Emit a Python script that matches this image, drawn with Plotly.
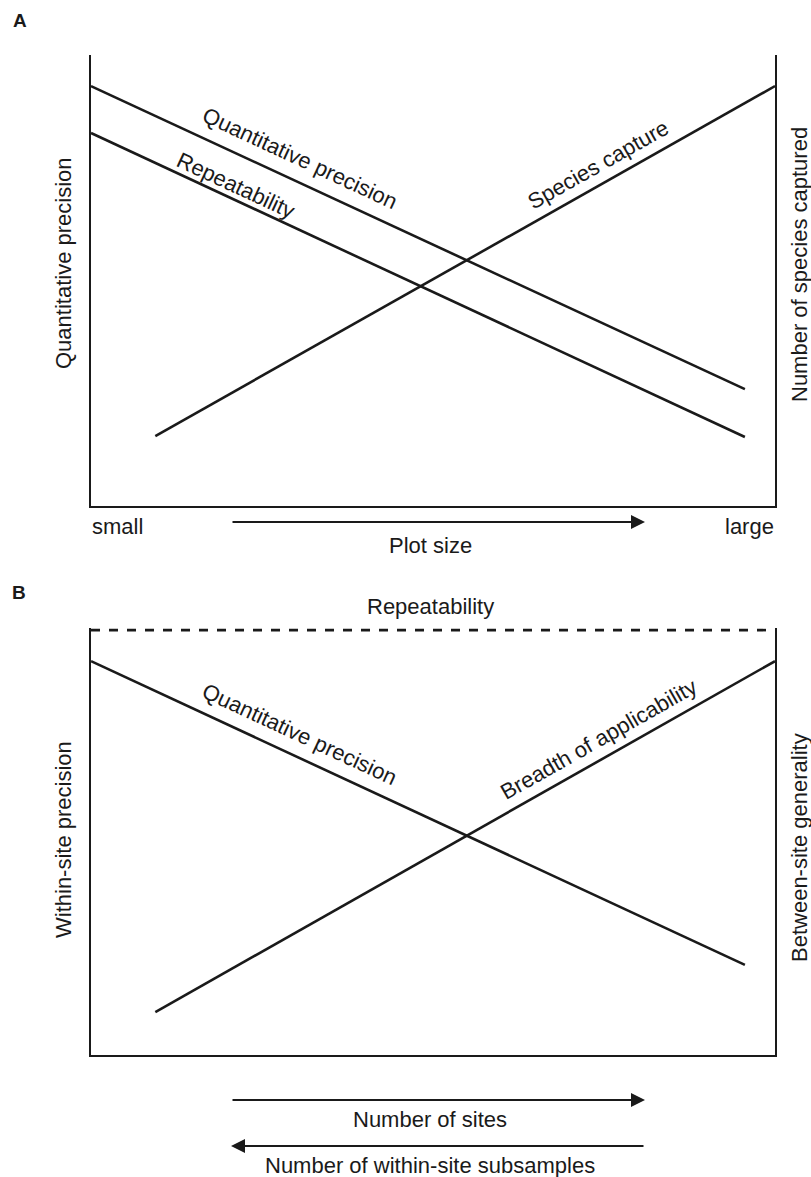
import math
import plotly.graph_objects as go

# ---------------- data (normalised units, 0..1 on each axis) ----------------
# Panel A
a_qp_x = [0.0, 0.956]
a_qp_y = [0.931, 0.259]
a_rep_x = [0.0, 0.956]
a_rep_y = [0.827, 0.153]
a_sc_x = [0.094, 1.0]
a_sc_y = [0.155, 0.931]
a_labels = ["Quantitative precision", "Repeatability", "Species capture"]

# Panel B
b_qp_x = [0.0, 0.956]
b_qp_y = [0.927, 0.212]
b_br_x = [0.094, 1.0]
b_br_y = [0.101, 0.927]
b_rep_x = [0.0, 1.0]
b_rep_y = [1.0, 1.0]
b_labels = ["Quantitative precision", "Breadth of applicability", "Repeatability"]

a_xticks = ["small", "large"]
a_xtitle = "Plot size"
a_ytitle_left = "Quantitative precision"
a_ytitle_right = "Number of species captured"
b_ytitle_left = "Within-site precision"
b_ytitle_right = "Between-site generality"
b_arrow_texts = ["Number of sites", "Number of within-site subsamples"]

# ---------------- layout geometry ----------------
W, H = 811, 1177
X0, X1 = 91, 775
A_TOP, A_BOT = 55, 506
B_TOP, B_BOT = 628, 1055
A_YR = [0, 1.0]
B_YR = [0, 1.005]
FONT = "Liberation Sans, Arial, Helvetica, sans-serif"
FS = 22
LC = "#1a1a1a"
LW = 2.6

def px(x):
    return x / W

def py(y):
    return 1 - y / H

fig = go.Figure()

def add_line(xs, ys, axis, dash="solid"):
    fig.add_trace(go.Scatter(
        x=xs, y=ys, mode="lines", xaxis=axis[0], yaxis=axis[1],
        line=dict(color=LC, width=LW, dash=dash), showlegend=False,
        hoverinfo="skip"))

add_line(a_qp_x, a_qp_y, ("x", "y"))
add_line(a_rep_x, a_rep_y, ("x", "y"))
add_line(a_sc_x, a_sc_y, ("x", "y"))
add_line(b_qp_x, b_qp_y, ("x2", "y2"))
add_line(b_br_x, b_br_y, ("x2", "y2"))
add_line(b_rep_x, b_rep_y, ("x2", "y2"), dash="dash")

axis_common = dict(showgrid=False, zeroline=False, showticklabels=False,
                   ticks="", showline=True, linecolor=LC, linewidth=2.2)

fig.update_layout(
    width=W, height=H, margin=dict(l=0, r=0, t=0, b=0),
    paper_bgcolor="white", plot_bgcolor="white",
    font=dict(family=FONT, size=FS, color=LC),
    xaxis=dict(domain=[px(X0), px(X1)], range=[0, 1], anchor="y", **axis_common),
    yaxis=dict(domain=[py(A_BOT), py(A_TOP)], range=A_YR, anchor="x",
               mirror=True, **axis_common),
    xaxis2=dict(domain=[px(X0), px(X1)], range=[0, 1], anchor="y2", **axis_common),
    yaxis2=dict(domain=[py(B_BOT), py(B_TOP)], range=B_YR, anchor="x2",
                mirror=True, **axis_common),
)

annotations = []

def text_at(text, x, y, size=FS, angle=0, bold=False, anchor="center"):
    t = f"<b>{text}</b>" if bold else text
    annotations.append(dict(text=t, x=px(x), y=py(y), xref="paper", yref="paper",
                            xanchor=anchor, yanchor="middle", showarrow=False,
                            textangle=angle, font=dict(size=size, family=FONT, color=LC)))

def line_label(text, xs, ys, t, d, xr, yr, top, bot, yrange):
    # point on the line at fraction t, shifted perpendicular by d px (upwards)
    xv = xs[0] + t * (xs[1] - xs[0])
    yv = ys[0] + t * (ys[1] - ys[0])
    kx = X1 - X0
    ky = (bot - top) / (yrange[1] - yrange[0])
    dxp = (xs[1] - xs[0]) * kx
    dyp = -(ys[1] - ys[0]) * ky
    th = math.atan2(dyp, dxp)
    annotations.append(dict(text=text, x=xv, y=yv, xref=xr, yref=yr,
                            xanchor="center", yanchor="middle", showarrow=False,
                            textangle=math.degrees(th),
                            xshift=d * math.sin(th), yshift=d * math.cos(th),
                            font=dict(size=FS, family=FONT, color=LC)))

def arrow(x_head, x_tail, y):
    annotations.append(dict(text="", x=px(x_head), y=py(y), xref="paper", yref="paper",
                            ax=x_tail - x_head, ay=0, showarrow=True,
                            arrowhead=2, arrowsize=1.4, arrowwidth=2, arrowcolor=LC))

# Panel A
text_at("A", 20, 20, size=19, bold=True)
line_label(a_labels[0], a_qp_x, a_qp_y, 0.306, 22, "x", "y", A_TOP, A_BOT, A_YR)
line_label(a_labels[1], a_rep_x, a_rep_y, 0.213, 13, "x", "y", A_TOP, A_BOT, A_YR)
line_label(a_labels[2], a_sc_x, a_sc_y, 0.73, 19, "x", "y", A_TOP, A_BOT, A_YR)
text_at(a_xticks[0], 90, 526, anchor="left")
text_at(a_xticks[1], 776, 526, anchor="right")
text_at(a_xtitle, 430, 545)
arrow(645, 231, 522)
text_at(a_ytitle_left, 63, 263, angle=-90)
text_at(a_ytitle_right, 799, 265, angle=-90)

# Panel B
text_at("B", 19, 592, size=19, bold=True)
text_at(b_labels[2], 430, 606)
line_label(b_labels[0], b_qp_x, b_qp_y, 0.306, 22, "x2", "y2", B_TOP, B_BOT, B_YR)
line_label(b_labels[1], b_br_x, b_br_y, 0.73, 19, "x2", "y2", B_TOP, B_BOT, B_YR)
text_at(b_ytitle_left, 63, 840, angle=-90)
text_at(b_ytitle_right, 799, 848, angle=-90)
arrow(645, 231, 1100)
text_at(b_arrow_texts[0], 430, 1119)
arrow(231, 645, 1146)
text_at(b_arrow_texts[1], 430, 1165)

fig.update_layout(annotations=annotations)
fig.write_html(
    "out.html",
    config={"displayModeBar": False, "staticPlot": True},
    post_script="document.body.style.margin='0';document.body.style.padding='0';"
                "document.documentElement.style.margin='0';"
                "document.body.style.overflow='hidden';",
)
